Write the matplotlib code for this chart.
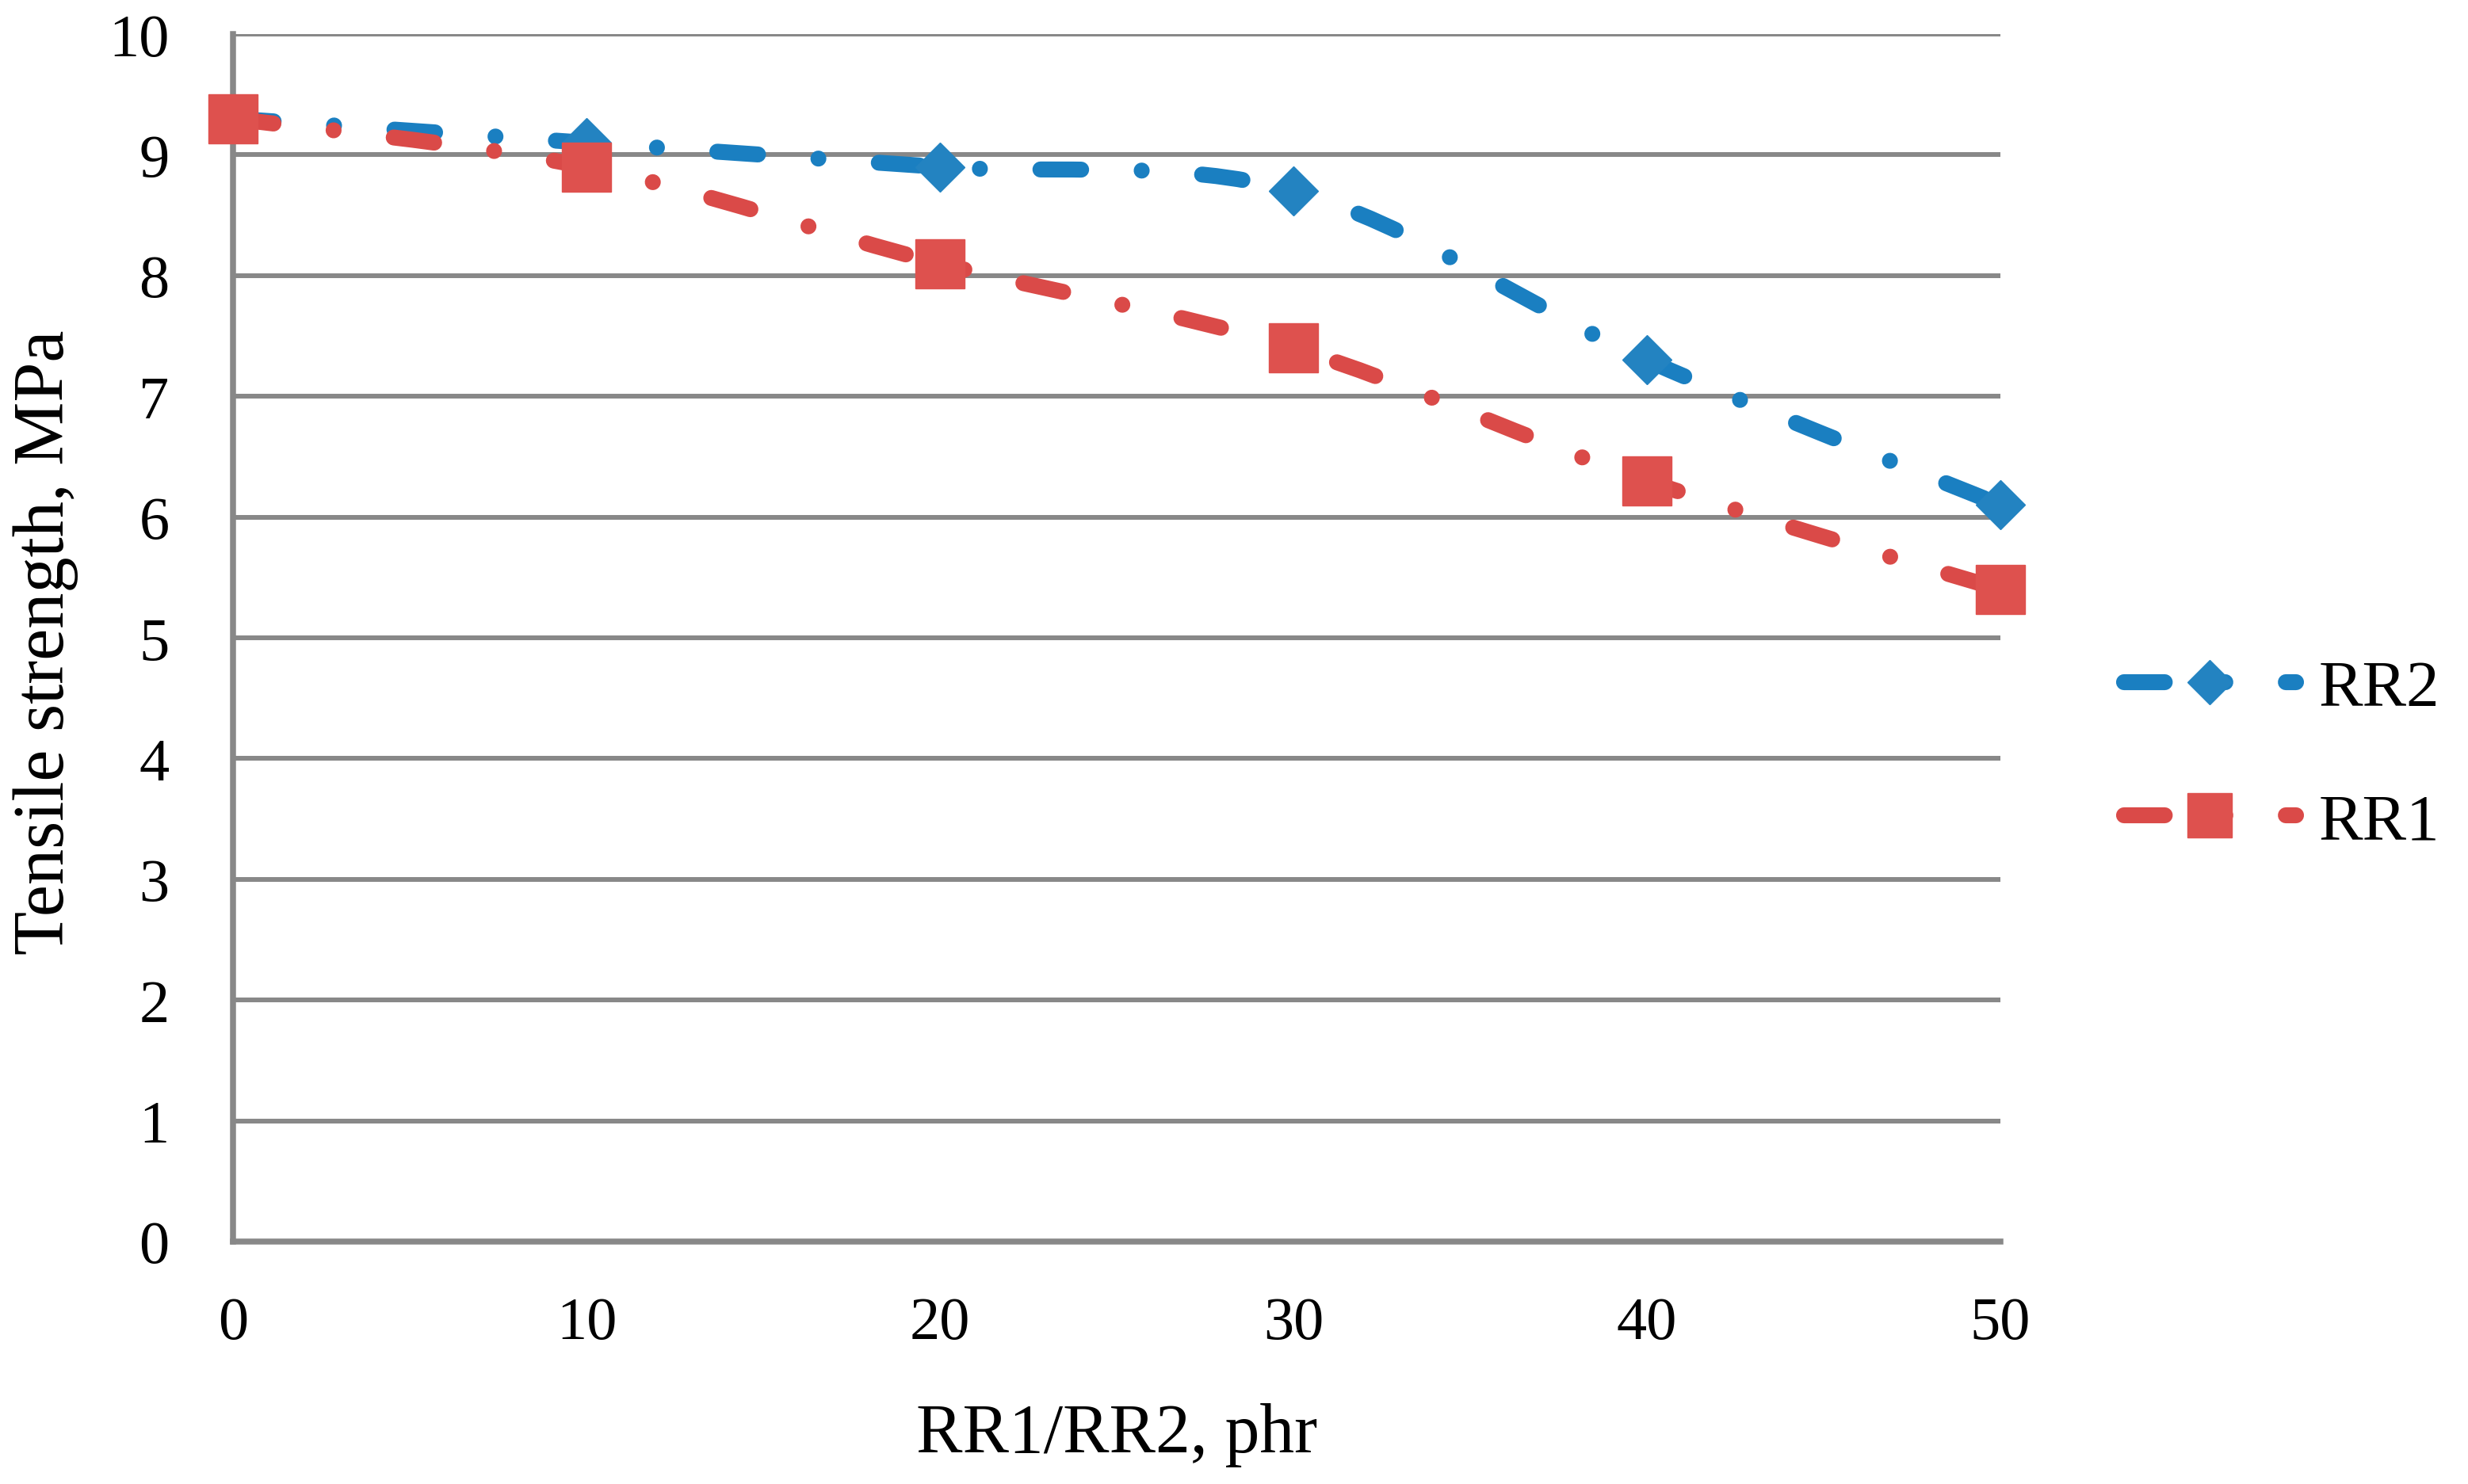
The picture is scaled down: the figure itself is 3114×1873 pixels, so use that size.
import numpy as np
import matplotlib
matplotlib.use("Agg")
import matplotlib.pyplot as plt
from matplotlib.path import Path
from matplotlib.patches import PathPatch
from matplotlib.lines import Line2D

# ---- data ----
phr = [0, 10, 20, 30, 40, 50]
rr2 = [9.3, 9.1, 8.9, 8.7, 7.3, 6.1]
rr1 = [9.3, 8.9, 8.1, 7.4, 6.3, 5.4]
yticks = [0, 1, 2, 3, 4, 5, 6, 7, 8, 9, 10]
xticks = [0, 10, 20, 30, 40, 50]

plt.rcParams['font.family'] = ['Liberation Serif', 'DejaVu Serif']
plt.rcParams['lines.scale_dashes'] = False

BLUE_L = '#1a7fc1'
BLUE_M = '#2383c1'
RED_L = '#da4a48'
RED_M = '#de514e'
GRID = '#888888'

LW = 14.5
DASH = (0, (37, 55, 0.01, 55))


def smooth_path(x, y):
    pts = np.column_stack([x, y]).astype(float)
    n = len(pts)
    verts = [pts[0]]
    codes = [Path.MOVETO]
    for i in range(n - 1):
        p0 = pts[i - 1] if i > 0 else pts[i]
        p1 = pts[i]
        p2 = pts[i + 1]
        p3 = pts[i + 2] if i + 2 < n else pts[i + 1]
        c1 = p1 + (p2 - p0) / 6.0
        c2 = p2 - (p3 - p1) / 6.0
        verts += [c1, c2, p2]
        codes += [Path.CURVE4] * 3
    return Path(verts, codes)


fig = plt.figure(figsize=(31.14, 18.74), dpi=100)
ax = fig.add_axes([294 / 3114, 1 - 1568 / 1874, 2230 / 3114, 1524 / 1874])
ax.set_xlim(0, 50)
ax.set_ylim(0, 10)

# grid and spines
ax.set_yticks(yticks)
ax.set_xticks(xticks)
ax.yaxis.grid(True, color=GRID, linewidth=4.3)
ax.xaxis.grid(False)
ax.set_axisbelow(True)
for s in ['top', 'right']:
    ax.spines[s].set_visible(False)
for s in ['left', 'bottom']:
    ax.spines[s].set_color(GRID)
    ax.spines[s].set_linewidth(5.4)
ax.tick_params(axis='both', length=0, labelsize=55, colors='black')
ax.tick_params(axis='y', pad=58)
ax.tick_params(axis='x', pad=50)

# series
series = [
    (rr2, BLUE_L, BLUE_M, 'D', 32, 'RR2'),
    (rr1, RED_L, RED_M, 's', 45, 'RR1'),
]
handles = []
labels = []
for i, (vals, lc, mc, mk, ms, lab) in enumerate(series):
    patch = PathPatch(smooth_path(phr, vals), fill=False, edgecolor=lc,
                      linewidth=LW, linestyle=DASH, capstyle='round',
                      joinstyle='round', transform=ax.transData,
                      clip_on=False, zorder=3 + 2 * i)
    ax.add_patch(patch)
    ax.plot(phr, vals, linestyle='none', marker=mk, markersize=ms,
            markerfacecolor=mc, markeredgecolor=mc, markeredgewidth=1.0,
            clip_on=False, zorder=4 + 2 * i)
    h = Line2D([], [], color=lc, linewidth=LW, linestyle=DASH,
               dash_capstyle='round', marker=mk, markersize=ms * 0.9,
               markerfacecolor=mc, markeredgecolor=mc, markeredgewidth=1.0)
    handles.append(h)
    labels.append(lab)

leg = fig.legend(handles, labels,
                 loc='center left', bbox_to_anchor=(2680 / 3114, 1 - 955 / 1874),
                 frameon=False, fontsize=60, handlelength=2.6, handletextpad=0.35,
                 labelspacing=1.1, borderpad=0, borderaxespad=0, numpoints=1)

fig.text(1409 / 3114, 1 - 1833 / 1874, 'RR1/RR2, phr', ha='center',
         va='baseline', fontsize=63)
fig.text(80 / 3114, 1 - 811 / 1874, 'Tensile strength, MPa', ha='center',
         va='baseline', rotation=90, rotation_mode='anchor', fontsize=65)

fig.savefig('out.png', dpi=100)
